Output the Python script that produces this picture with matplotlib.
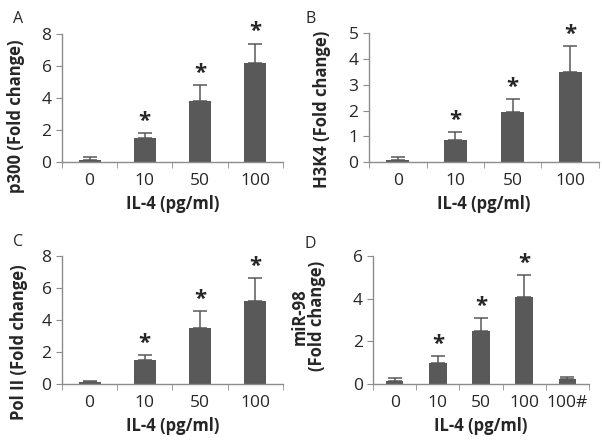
import matplotlib
matplotlib.use("Agg")
import matplotlib.pyplot as plt
import numpy as np

plt.rcParams["font.family"] = ["Open Sans", "DejaVu Sans"]

doses = ["0", "10", "50", "100"]
doses_d = ["0", "10", "50", "100", "100#"]

p300_mean = [0.15, 1.5, 3.8, 6.2]
p300_err = [0.15, 0.3, 1.0, 1.2]
h3k4_mean = [0.1, 0.85, 1.95, 3.5]
h3k4_err = [0.1, 0.3, 0.5, 1.0]
pol2_mean = [0.1, 1.5, 3.5, 5.2]
pol2_err = [0.1, 0.3, 1.05, 1.4]
mir98_mean = [0.15, 1.0, 2.5, 4.1, 0.25]
mir98_err = [0.12, 0.3, 0.6, 1.0, 0.1]
sig_a = [False, True, True, True]
sig_b = [False, True, True, True]
sig_c = [False, True, True, True]
sig_d = [False, True, True, True, False]

bar_color = "#595959"
spine_color = "#8c8c8c"
text_color = "#262626"

fig = plt.figure(figsize=(6.02, 4.43), dpi=100)

# letra, posicao do eixo, categorias, medias, erros, significancia, rotulo y,
# ymax, passo, posicao da letra, coordenadas do rotulo y
panels = [
    ("A", [0.103, 0.634, 0.367, 0.289], doses, p300_mean, p300_err, sig_a,
     "p300 (Fold change)", 8, 2, (0.022, 0.975), (-0.167, 0.36)),
    ("B", [0.613, 0.634, 0.382, 0.291], doses, h3k4_mean, h3k4_err, sig_b,
     "H3K4 (Fold change)", 5, 1, (0.508, 0.975), (-0.165, 0.41)),
    ("C", [0.103, 0.133, 0.367, 0.289], doses, pol2_mean, pol2_err, sig_c,
     "Pol II (Fold change)", 8, 2, (0.022, 0.472), (-0.154, 0.33)),
    ("D", [0.620, 0.133, 0.358, 0.289], doses_d, mir98_mean, mir98_err, sig_d,
     "miR-98\n(Fold change)", 6, 2, (0.505, 0.467), (-0.218, 0.53)),
]

for letra, pos, cats, medias, erros, sig, ylabel, ymax, passo, letra_pos, ylab_pos in panels:
    ax = fig.add_axes(pos)
    x = np.arange(len(cats))
    ax.bar(x, medias, width=0.4, color=bar_color, zorder=2)
    ax.errorbar(x, medias, yerr=[np.zeros(len(erros)), erros], fmt="none",
                ecolor=bar_color, elinewidth=1.1, capsize=5, capthick=1.1, zorder=3)
    for xi, m, e, s in zip(x, medias, erros, sig):
        if s:
            ax.text(xi, m + e + ymax * 0.01, "*", ha="center", va="bottom",
                    fontsize=16, fontweight="bold", color=text_color)
    ax.set_xlim(-0.5, len(cats) - 0.5)
    ax.set_ylim(0, ymax)
    ax.set_yticks(np.arange(0, ymax + 0.01, passo))
    ax.set_xticks(x)
    ax.set_xticklabels(cats)
    ax.set_xticks(np.arange(-0.5, len(cats), 1.0), minor=True)
    ax.tick_params(axis="x", which="major", length=0, pad=8, labelsize=12.5, colors=text_color)
    ax.tick_params(axis="x", which="minor", length=4, color=spine_color, direction="out")
    ax.tick_params(axis="y", length=4, color=spine_color, labelsize=12.5, colors=text_color)
    ax.tick_params(axis="y", color=spine_color)
    for lado in ["top", "right"]:
        ax.spines[lado].set_visible(False)
    for lado in ["left", "bottom"]:
        ax.spines[lado].set_color(spine_color)
        ax.spines[lado].set_linewidth(1.0)
    ax.set_xlabel("IL-4 (pg/ml)", fontsize=12, fontweight="bold", color=text_color, labelpad=4)
    ax.set_ylabel(ylabel, fontsize=12, fontweight="bold", color=text_color,
                  linespacing=1.0)
    ax.yaxis.set_label_coords(*ylab_pos)
    fig.text(letra_pos[0], letra_pos[1], letra, fontsize=11.5, color=text_color,
             ha="left", va="top")

fig.savefig("out.png", dpi=100)
